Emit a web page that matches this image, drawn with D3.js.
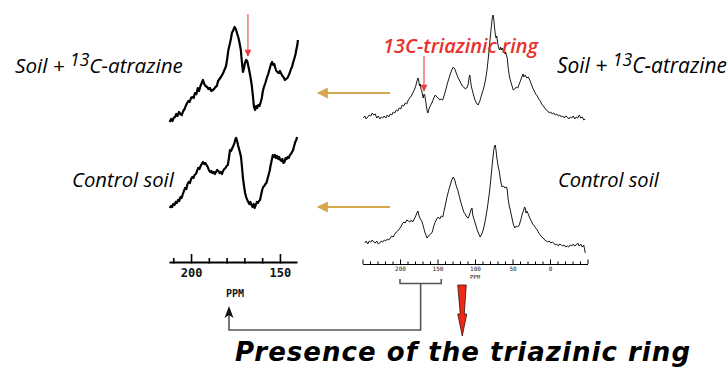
<!DOCTYPE html>
<html><head><meta charset="utf-8">
<script src="https://cdn.jsdelivr.net/npm/d3@7"></script>
<style>
html,body{margin:0;padding:0;background:#fff;}
svg{display:block;}
</style></head><body>
<svg id="chart" width="728" height="367"></svg>
<script>
// Full-range 13C spectrum of soil + 13C-atrazine: [ppm, intensity]
const wideAtrazine = [[249,4],[247,6],[245,3],[243,5],[241,7],[239,6],[237,9],[235,7],[233,8],[231,4],[229,6],[227,3],[225,5],[223,4],[221,6],[219,4],[217,7],[215,5],[213,8],[211,7],[209,10],[207,9],[205,12],[203,11],[201,14],[199,13],[197,17],[195,16],[193,19],[191,18],[189,22],[187,24],[185,26],[183,29],[181,32],[179,36],[177,42],[176,44],[175,41],[174,36],[173,38],[172,33],[171,31],[170,27],[169,24],[168,28],[167,27],[166,22],[165,17],[164,12],[163,9],[162,11],[161,14],[159,17],[157,20],[155,24],[153,27],[151,25],[149,24],[147,22],[145,23],[143,22],[141,27],[139,32],[137,38],[135,43],[133,48],[131,52],[129,55],[127,53],[125,49],[123,45],[121,42],[119,39],[117,36],[115,35],[113,33],[111,34],[109,38],[108,44],[107,47],[106,42],[105,36],[104,33],[102,27],[100,22],[98,19],[96,17],[94,20],[92,25],[90,30],[88,35],[86,42],[84,52],[82,66],[80,82],[78,97],[77,104],[76,107],[75,103],[74,95],[73,88],[72,84],[71,86],[70,80],[69,76],[68,73],[67,72],[66,75],[65,72],[64,74],[63,73],[62,70],[61,72],[60,68],[59,70],[58,66],[57,64],[56,56],[55,50],[54,45],[53,42],[51,37],[49,32],[47,33],[45,35],[43,34],[41,38],[39,42],[37,46],[36,48],[35,45],[33,47],[31,44],[29,45],[27,42],[25,38],[23,34],[21,31],[19,28],[17,26],[15,23],[13,21],[11,18],[9,16],[7,14],[5,12],[3,11],[1,9],[-1,10],[-3,8],[-5,9],[-7,7],[-9,8],[-11,6],[-13,7],[-15,5],[-17,6],[-19,4],[-21,6],[-23,5],[-25,3],[-27,5],[-29,4],[-31,6],[-33,3],[-35,5],[-37,4],[-39,7],[-41,4],[-43,5],[-45,2],[-47,3]];

// Full-range 13C spectrum of the control soil
const wideControl = [[247,7],[245,9],[243,6],[241,9],[239,8],[237,10],[235,8],[233,7],[231,9],[229,6],[227,7],[225,9],[223,8],[221,10],[219,9],[217,11],[215,10],[213,12],[211,14],[209,13],[207,16],[205,18],[203,19],[201,21],[199,23],[197,26],[195,28],[193,27],[191,30],[189,29],[187,28],[185,30],[183,28],[181,31],[179,34],[177,38],[176,39],[175,35],[173,31],[171,29],[169,24],[167,18],[165,14],[164,12],[163,13],[161,15],[159,16],[157,18],[155,24],[153,28],[151,31],[149,33],[147,31],[145,34],[143,33],[141,40],[139,47],[137,54],[135,60],[133,65],[131,70],[129,73],[127,70],[125,64],[123,60],[121,54],[119,48],[117,43],[115,38],[113,36],[111,33],[109,32],[107,36],[105,41],[104,42],[103,35],[101,30],[99,25],[97,20],[95,16],[93,13],[91,16],[89,20],[87,27],[85,35],[83,45],[81,56],[79,70],[77,86],[75,100],[74,104],[73,105],[72,100],[71,93],[70,88],[69,83],[68,80],[67,75],[66,70],[65,66],[64,63],[62,64],[60,62],[58,63],[57,60],[56,52],[55,47],[54,43],[53,40],[51,33],[49,26],[47,22],[45,24],[43,23],[41,25],[39,30],[37,36],[35,40],[34,43],[33,42],[32,37],[31,39],[29,36],[27,32],[25,29],[23,26],[21,24],[19,22],[17,20],[15,17],[13,15],[11,13],[9,12],[7,10],[5,9],[3,8],[1,9],[-1,7],[-3,8],[-5,7],[-7,5],[-9,6],[-11,4],[-13,6],[-15,5],[-17,4],[-19,5],[-21,3],[-23,4],[-25,3],[-27,5],[-29,4],[-31,6],[-33,4],[-35,5],[-37,7],[-39,4],[-41,6],[-43,3],[-45,5],[-46,1],[-47,-3]];

// Expanded 212-140 ppm region, soil + 13C-atrazine
const zoomAtrazine = [[212,2],[211.2,5],[210.5,3],[209.8,6],[209,7],[208.3,10],[207.6,8],[206.8,12],[206,10],[205.2,9],[204.4,13],[203.6,15],[203,18],[202.2,21],[201.5,23],[200.8,22],[200,26],[199.2,27],[198.5,26],[197.8,31],[197,30],[196.2,36],[195.5,33],[194.7,38],[194,41],[193.3,44],[192.6,40],[191.8,38],[191,37],[190.2,35],[189.4,36],[188.6,33],[187.8,34],[187,35],[186.3,37],[185.5,38],[184.8,43],[184,45],[183.2,47],[182.5,49],[181.7,52],[181,55],[180.3,58],[179.6,66],[179,74],[178.2,80],[177.5,86],[177,91],[176.2,94],[175.5,97],[174.8,95],[174,90],[173.3,86],[172.6,80],[172,74],[171.4,62],[170.8,52],[170.2,56],[169.7,61],[169,64],[168.4,63],[167.8,58],[167.2,53],[166.5,46],[165.8,38],[165.2,28],[164.6,17],[164,14],[163.4,18],[162.8,16],[162.2,19],[161.5,18],[160.8,22],[160.2,26],[159.6,33],[159,37],[158.2,41],[157.4,46],[156.6,50],[155.8,55],[155,60],[154.4,62],[153.8,59],[153.2,60],[152.6,56],[152,53],[151.4,52],[150.6,51],[150,53],[149.2,50],[148.6,48],[148,47],[147.2,44],[146.5,45],[145.8,46],[145.2,48],[144.5,51],[143.8,55],[143.2,57],[142.5,62],[141.8,66],[141.2,70],[140.6,76],[140.2,79],[139.9,84]];

// Expanded 212-140 ppm region, control soil
const zoomControl = [[212,2],[211.3,4],[210.6,3],[210,6],[209.3,5],[208.6,8],[208,7],[207.3,10],[206.6,9],[206,13],[205.3,12],[204.6,16],[204,19],[203.3,22],[202.6,21],[202,26],[201.3,28],[200.6,27],[200,31],[199.3,33],[198.6,32],[198,35],[197.3,36],[196.6,39],[196,42],[195.3,41],[194.6,44],[194,46],[193.3,48],[192.6,46],[192,47],[191.3,45],[190.6,43],[190,40],[189.3,38],[188.6,39],[188,37],[187.3,38],[186.6,36],[186,38],[185.3,40],[184.6,39],[184,37],[183.3,38],[182.6,36],[182,39],[181.3,41],[180.6,42],[180,44],[179.3,45],[178.7,52],[178.1,60],[177.5,59],[176.8,62],[176.2,64],[175.6,67],[175,71],[174.6,72],[174.1,69],[173.6,65],[173,61],[172.4,57],[171.9,53],[171.4,44],[170.8,32],[170.2,24],[169.6,17],[169,13],[168.4,10],[167.8,8],[167.2,6],[166.6,8],[166,5],[165.4,3],[164.8,6],[164.2,2],[163.6,5],[163,8],[162.4,7],[161.8,9],[161.2,10],[160.6,15],[160,20],[159.4,23],[158.8,24],[158.2,26],[157.6,27],[157,31],[156.4,35],[155.8,39],[155.2,45],[154.6,50],[154,55],[153.4,53],[152.8,55],[152.2,52],[151.6,54],[151,51],[150.4,53],[149.8,50],[149.2,49],[148.6,51],[148,47],[147.4,48],[146.8,52],[146.2,51],[145.6,53],[145,52],[144.4,55],[143.8,56],[143.2,58],[142.6,60],[142,64],[141.4,68],[140.8,70],[140.4,73]];

// Chemical-shift tick marks and labels
const wideTickValues = d3.range(-50, 251, 10);
const wideTickLabels = [200, 150, 100, 50, 0];
const zoomTickValues = d3.range(150, 211, 10);
const zoomTickLabels = [200, 150];

// Triazine carbon position (ppm) and the bracketed region
const triazinePpm = 168;
const bracketPpm = [200, 145];

const svg = d3.select("#chart");
const labelFont = "'Open Sans', 'DejaVu Sans', sans-serif";
const titleFont = "'DejaVu Sans', Verdana, sans-serif";
const mono = "'DejaVu Sans Mono', monospace";

// ---- scales ----
const wideX = d3.scaleLinear().domain([250, -50]).range([362.5, 587.5]);
const zoomX = d3.scaleLinear().domain([212.4, 140.4]).range([169, 297]);
const yWideTop = d3.scaleLinear().domain([0, 110]).range([122, 12]);
const yWideBot = d3.scaleLinear().domain([0, 110]).range([250, 140]);
const yZoomTop = d3.scaleLinear().domain([0, 100]).range([124, 24]);
const yZoomBot = d3.scaleLinear().domain([0, 100]).range([210, 110]);

function trace(data, x, y, width) {
  svg.append("path")
    .datum(data)
    .attr("fill", "none")
    .attr("stroke", "#000")
    .attr("stroke-width", width)
    .attr("stroke-linejoin", "round")
    .attr("d", d3.line().x(d => x(d[0])).y(d => y(d[1])));
}

trace(wideAtrazine, wideX, yWideTop, 0.9);
trace(wideControl, wideX, yWideBot, 0.9);
trace(zoomAtrazine, zoomX, yZoomTop, 2.2);
trace(zoomControl, zoomX, yZoomBot, 2.2);

// ---- axes ----
const wideAxis = d3.axisBottom(wideX)
  .tickValues(wideTickValues)
  .tickSizeInner(-2.5).tickSizeOuter(0).tickPadding(2.5)
  .tickFormat(d => wideTickLabels.includes(d) ? d : "");
const gw = svg.append("g").attr("transform", "translate(0,264)").call(wideAxis);
gw.select(".domain").attr("stroke-width", 1);
gw.selectAll(".tick line").filter(d => d % 50 === 0).attr("y2", -4.5);
gw.selectAll(".tick text").attr("font-family", mono).attr("font-size", 6).attr("fill", "#222");
svg.append("text").attr("x", wideX(100)).attr("y", 278.5)
  .attr("text-anchor", "middle").attr("font-family", mono).attr("font-size", 5.5)
  .attr("fill", "#222").text("PPM");

const zoomAxis = d3.axisBottom(zoomX)
  .tickValues(zoomTickValues)
  .tickSizeInner(-4).tickSizeOuter(0).tickPadding(6)
  .tickFormat(d => zoomTickLabels.includes(d) ? d : "");
const gz = svg.append("g").attr("transform", "translate(0,262)").call(zoomAxis);
gz.select(".domain").attr("stroke-width", 2);
gz.selectAll(".tick line").attr("stroke-width", 1.6).attr("y1", 1.5);
gz.selectAll(".tick line").filter(d => d % 50 === 0).attr("y2", -8);
gz.selectAll(".tick text").attr("font-family", mono).attr("font-weight", "bold")
  .attr("font-size", 12).attr("fill", "#111");
svg.append("text").attr("x", 235).attr("y", 297)
  .attr("text-anchor", "middle").attr("font-family", mono).attr("font-weight", "bold")
  .attr("font-size", 10).attr("fill", "#111").text("PPM");

// ---- text helpers ----
function fit(sel, width) {
  const w = sel.node().getBBox().width;
  const fs = parseFloat(sel.attr("font-size"));
  sel.attr("font-size", fs * width / w);
  return sel;
}
function spread(sel, width) {
  const str = sel.text();
  const w = sel.node().getComputedTextLength();
  sel.attr("letter-spacing", Math.max(0, (width - w) / (str.length - 1)));
  return sel;
}
function sampleLabel(x, y, width) {
  const t = svg.append("text").attr("x", x).attr("y", y)
    .attr("font-family", labelFont).attr("font-style", "italic")
    .attr("font-size", 16).attr("fill", "#000");
  t.append("tspan").text("Soil + ");
  t.append("tspan").attr("font-size", "0.85em").attr("dy", "-0.4em").text("13");
  t.append("tspan").attr("dy", "0.34em").text("C-atrazine");
  return fit(t, width);
}
function plainLabel(x, y, width, str, color, weight) {
  const t = svg.append("text").attr("x", x).attr("y", y)
    .attr("font-family", labelFont).attr("font-style", "italic")
    .attr("font-size", 16).attr("fill", color || "#000")
    .attr("font-weight", weight || "normal")
    .text(str);
  return fit(t, width);
}

sampleLabel(15, 73, 168);
sampleLabel(557, 73, 170);
plainLabel(72, 187, 103, "Control soil");
plainLabel(558, 187, 102, "Control soil");
plainLabel(383, 53, 157, "13C-triazinic ring", "#e8302a", 600);

const title = svg.append("text").attr("x", 235).attr("y", 361)
  .attr("font-family", titleFont).attr("font-style", "italic").attr("font-weight", "bold")
  .attr("font-size", 26).attr("fill", "#000")
  .text("Presence of the triazinic ring");
spread(title, 455);

// ---- annotations ----
const defs = svg.append("defs");
function marker(id, color, w, h) {
  defs.append("marker").attr("id", id)
    .attr("viewBox", "0 0 10 10").attr("refX", 9).attr("refY", 5)
    .attr("markerUnits", "userSpaceOnUse")
    .attr("markerWidth", w).attr("markerHeight", h).attr("orient", "auto")
    .append("path").attr("d", "M0,0 L10,5 L0,10 Z").attr("fill", color);
}
marker("redHead", "#ee3b3b", 9, 7);
marker("goldHead", "#d6a64c", 15, 11);

// red arrows at the triazine carbon
svg.append("line")
  .attr("x1", zoomX(triazinePpm)).attr("x2", zoomX(triazinePpm))
  .attr("y1", 14).attr("y2", 56)
  .attr("stroke", "#f26565").attr("stroke-width", 1.3)
  .attr("marker-end", "url(#redHead)");
svg.append("line")
  .attr("x1", wideX(triazinePpm)).attr("x2", wideX(triazinePpm))
  .attr("y1", 56).attr("y2", 91)
  .attr("stroke", "#e8302a").attr("stroke-width", 1)
  .attr("marker-end", "url(#redHead)");

// gold arrows from full spectra to expansions
[93, 207].forEach(yy => {
  svg.append("line")
    .attr("x1", 390).attr("x2", 318).attr("y1", yy).attr("y2", yy)
    .attr("stroke", "#d6a64c").attr("stroke-width", 2)
    .attr("marker-end", "url(#goldHead)");
});

// bracket over the expanded region and connector to the expansion axis
const bx0 = wideX(bracketPpm[0]), bx1 = wideX(bracketPpm[1]);
const bmid = (bx0 + bx1) / 2;
svg.append("path")
  .attr("d", `M${bx0},279 V283.5 H${bx1} V279 M${bmid},283.5 V330 H229 V313`)
  .attr("fill", "none").attr("stroke", "#555").attr("stroke-width", 1.6);
svg.append("path")
  .attr("d", "M229,306 L233.5,318 L229,315 L224.5,318 Z")
  .attr("fill", "#111");

// big red downward arrow
const ax = wideX(117);
svg.append("path")
  .attr("d", `M${ax - 4.5},285 L${ax + 4},285 L${ax + 2},314 L${ax + 4.5},314 L${ax},336 L${ax - 4.5},314 L${ax - 2},314 Z`)
  .attr("fill", "#ee2a16").attr("stroke", "#3a0c06").attr("stroke-width", 0.8)
  .attr("stroke-linejoin", "round");
</script>
</body></html>
